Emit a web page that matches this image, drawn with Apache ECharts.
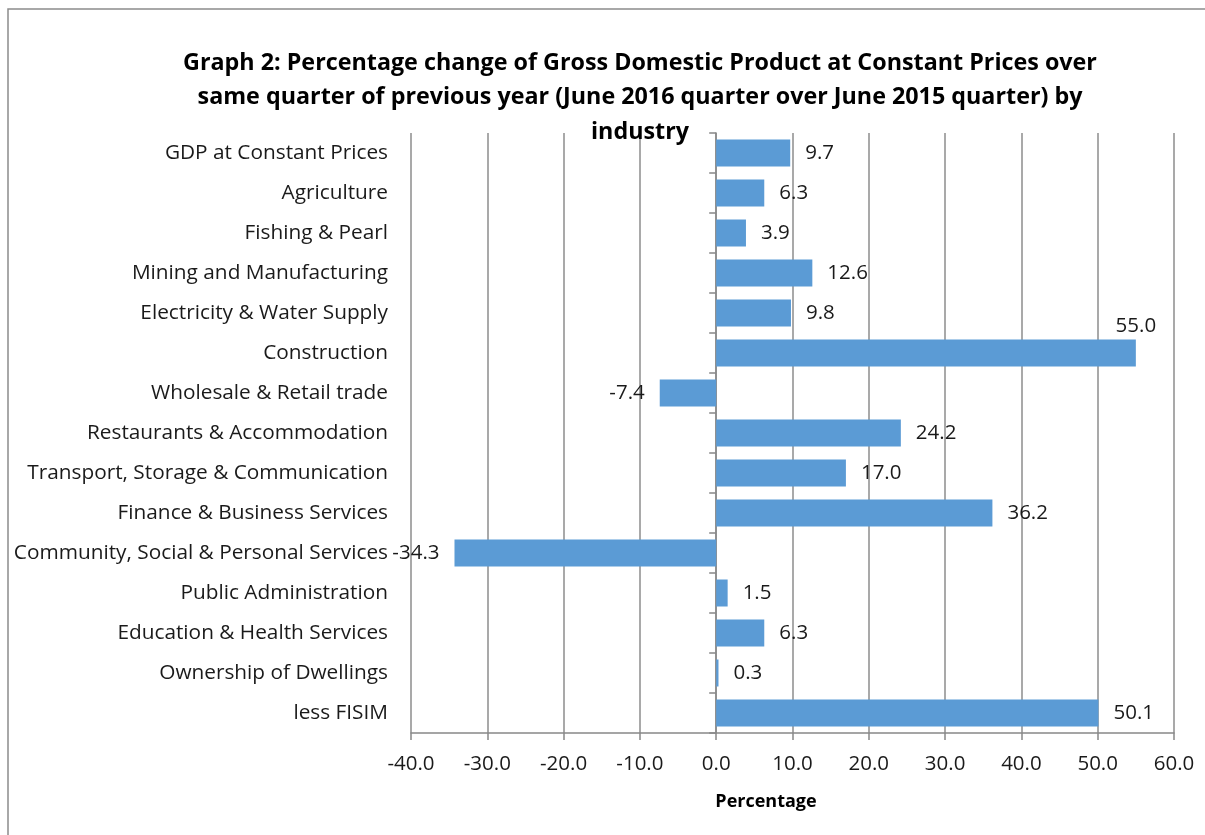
<!DOCTYPE html>
<html>
<head>
<meta charset="utf-8">
<script src="https://cdn.jsdelivr.net/npm/echarts@6/dist/echarts.min.js"></script>
<style>
html,body{margin:0;padding:0;background:#fff;}
#main{width:1205px;height:835px;}
</style>
</head>
<body>
<div id="main"></div>
<script>
var industries = [
    'GDP at Constant Prices',
    'Agriculture',
    'Fishing & Pearl',
    'Mining and Manufacturing',
    'Electricity & Water Supply',
    'Construction',
    'Wholesale & Retail trade',
    'Restaurants & Accommodation',
    'Transport, Storage & Communication',
    'Finance & Business Services',
    'Community, Social & Personal Services',
    'Public Administration',
    'Education & Health Services',
    'Ownership of Dwellings',
    'less FISIM'
];
var pctChange = [9.7, 6.3, 3.9, 12.6, 9.8, 55.0, -7.4, 24.2, 17.0, 36.2, -34.3, 1.5, 6.3, 0.3, 50.1];

var titleText = 'Graph 2: Percentage change of Gross Domestic Product at Constant Prices over\nsame quarter of previous year (June 2016 quarter over June 2015 quarter) by\nindustry';

var FONT = '"Open Sans", Lato, sans-serif';

var my_chart = echarts.init(document.getElementById('main'));

// per bar label position: negative -> left, the one that runs past 50 sits above its end
var barData = [];
for (var i = 0; i < pctChange.length; i++) {
    var v = pctChange[i];
    var item = {value: v};
    if (v < 0) {
        item.label = {position: 'left'};
    } else if (v > 52) {
        item.label = {position: ['100%', -13], align: 'center', verticalAlign: 'middle', distance: 0};
    }
    barData.push(item);
}

var option = {
    backgroundColor: '#fff',
    animation: false,
    textStyle: {fontFamily: FONT},
    title: {
        text: titleText,
        left: 635,
        top: 41,
        textAlign: 'center',
        textStyle: {
            fontFamily: FONT,
            fontWeight: 'bold',
            fontSize: 23.3,
            lineHeight: 34.5,
            color: '#000'
        }
    },
    graphic: [
        {
            type: 'rect',
            shape: {x: 8, y: 9, width: 1230, height: 860},
            style: {fill: 'none', stroke: '#8c8c8c', lineWidth: 1.5},
            z: 100
        },
        {
            type: 'text',
            x: 766,
            y: 802,
            style: {
                text: 'Percentage',
                fontFamily: FONT,
                fontWeight: 'bold',
                fontSize: 18,
                fill: '#000',
                textAlign: 'center',
                textVerticalAlign: 'middle'
            }
        }
    ],
    grid: {left: 411, right: 31, top: 133, bottom: 102, containLabel: false},
    xAxis: {
        type: 'value',
        min: -40,
        max: 60,
        interval: 10,
        axisLine: {show: true, onZero: false, lineStyle: {color: '#888', width: 1.5}},
        axisTick: {show: true, length: 7, lineStyle: {color: '#888', width: 1.5}},
        axisLabel: {
            margin: 21,
            fontSize: 20.5,
            color: '#1a1a1a',
            fontFamily: FONT,
            formatter: function (val) { return val.toFixed(1); }
        },
        splitLine: {show: true, lineStyle: {color: '#8c8c8c', width: 1.5}}
    },
    yAxis: [
        {
            type: 'category',
            position: 'left',
            inverse: true,
            data: industries,
            axisLine: {show: false, onZero: false},
            axisTick: {show: false},
            axisLabel: {margin: 23, fontSize: 20.8, color: '#1a1a1a', fontFamily: FONT}
        },
        {
            type: 'category',
            position: 'left',
            inverse: true,
            data: industries,
            axisLine: {show: true, onZero: true, lineStyle: {color: '#888', width: 1.5}},
            axisTick: {show: true, length: 7, lineStyle: {color: '#888', width: 1.5}},
            axisLabel: {show: false}
        }
    ],
    series: [
        {
            name: 'Percentage change',
            type: 'bar',
            yAxisIndex: 0,
            barWidth: 27,
            data: barData,
            itemStyle: {color: '#5b9bd5'},
            label: {
                show: true,
                position: 'right',
                distance: 15,
                fontSize: 20.5,
                color: '#1a1a1a',
                fontFamily: FONT,
                formatter: function (p) { return p.value.toFixed(1); }
            }
        }
    ]
};

my_chart.setOption(option);
</script>
</body>
</html>
